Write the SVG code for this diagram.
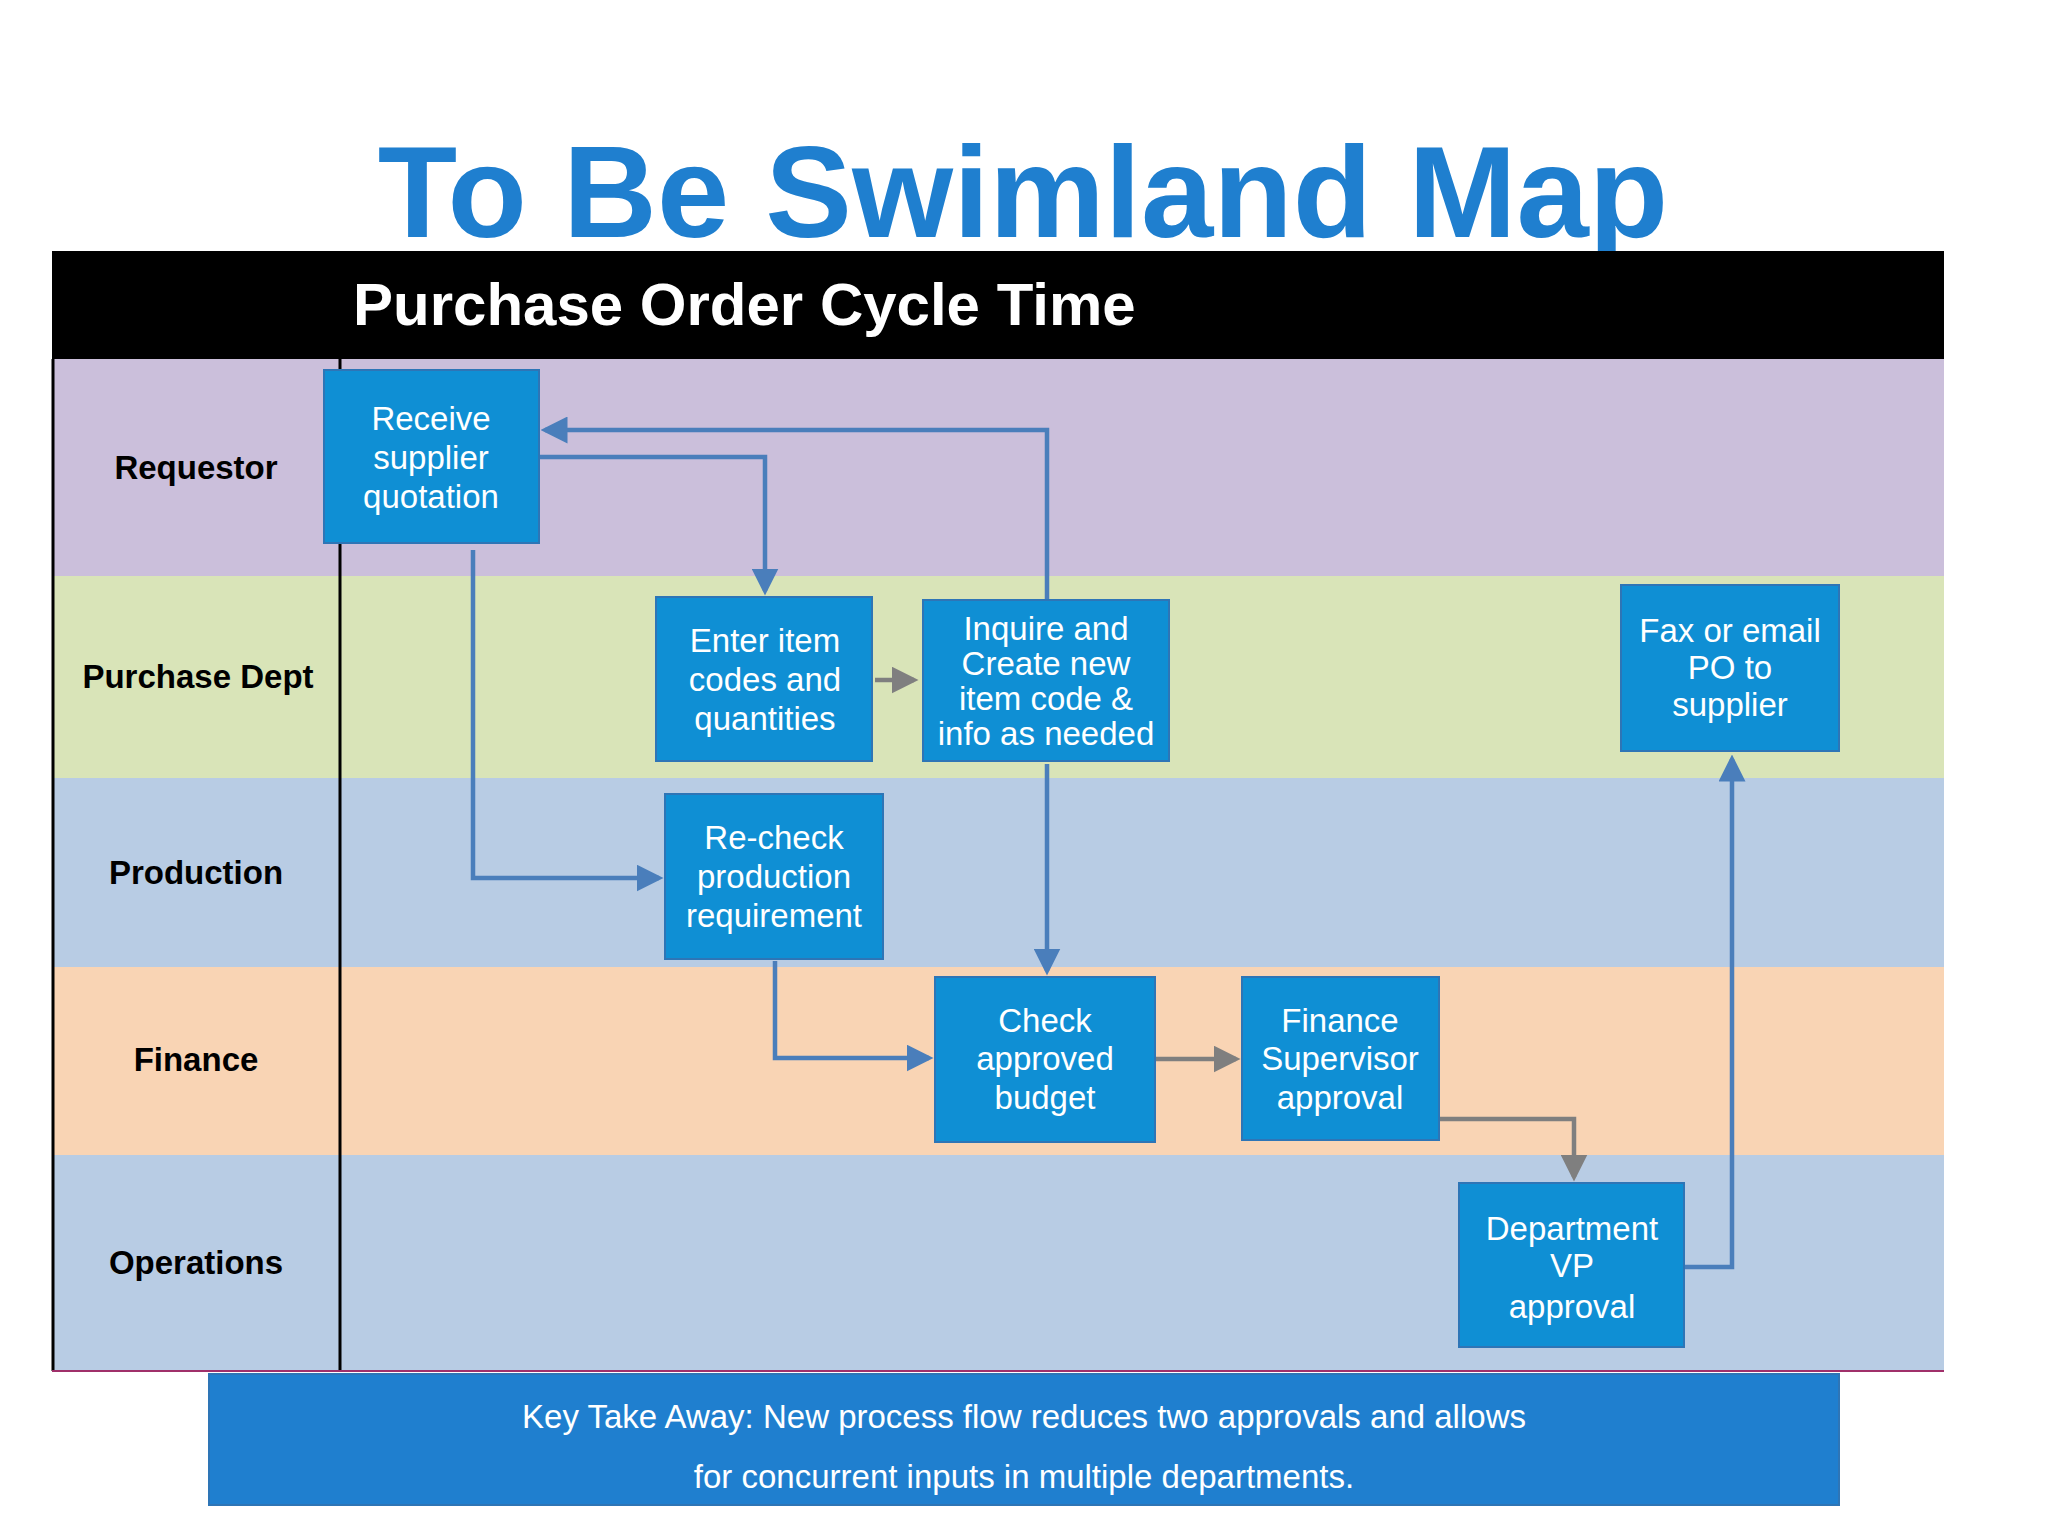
<svg xmlns="http://www.w3.org/2000/svg" width="2048" height="1536" viewBox="0 0 2048 1536">
<style>
.lbl{font-family:"Liberation Sans",Arial,sans-serif;font-weight:bold;font-size:33px;fill:#000;text-anchor:middle}
.box{fill:#0f8fd4;stroke:#2e75b6;stroke-width:2}
.bt{font-family:"Liberation Sans",Arial,sans-serif;font-size:33px;fill:#fff;text-anchor:middle}
.cb{fill:none;stroke:#4a7ebb;stroke-width:4.5}
.cg{fill:none;stroke:#7f7f7f;stroke-width:4.5}
</style>
<defs>
<marker id="ab" markerWidth="6" markerHeight="6" refX="5" refY="3" orient="auto" markerUnits="strokeWidth"><path d="M0,0L6,3L0,6z" fill="#4a7ebb"/></marker>
<marker id="ag" markerWidth="6" markerHeight="6" refX="5" refY="3" orient="auto" markerUnits="strokeWidth"><path d="M0,0L6,3L0,6z" fill="#7f7f7f"/></marker>
</defs>
<rect width="2048" height="1536" fill="#fff"/>
<text x="1023" y="237" font-family="Liberation Sans,Arial,sans-serif" font-weight="bold" font-size="130" fill="#1f7fcf" text-anchor="middle">To Be Swimland Map</text>
<rect x="52" y="251" width="1892" height="108" fill="#000"/>
<text x="353" y="325" font-family="Liberation Sans,Arial,sans-serif" font-weight="bold" font-size="60" fill="#fff">Purchase Order Cycle Time</text>
<g id="lanes">
<rect x="52" y="359" width="1892" height="217" fill="#cbbfdb"/>
<rect x="52" y="576" width="1892" height="202" fill="#d9e4b8"/>
<rect x="52" y="778" width="1892" height="189" fill="#b8cce4"/>
<rect x="52" y="967" width="1892" height="188" fill="#f9d4b4"/>
<rect x="52" y="1155" width="1892" height="216" fill="#b8cce4"/>
<line x1="53" y1="359" x2="53" y2="1371" stroke="#000" stroke-width="3"/>
<line x1="340" y1="251" x2="340" y2="1371" stroke="#000" stroke-width="3"/>
<line x1="52" y1="1371" x2="1944" y2="1371" stroke="#a0306a" stroke-width="2"/>
<text class="lbl" x="196" y="479">Requestor</text>
<text class="lbl" x="198" y="688">Purchase Dept</text>
<text class="lbl" x="196" y="884">Production</text>
<text class="lbl" x="196" y="1071">Finance</text>
<text class="lbl" x="196" y="1274">Operations</text>
</g>
<g id="connectors">
<polyline class="cb" points="1047,600 1047,430 545,430" marker-end="url(#ab)"/>
<polyline class="cb" points="539,457 765,457 765,591" marker-end="url(#ab)"/>
<polyline class="cg" points="875,680 914,680" marker-end="url(#ag)"/>
<polyline class="cb" points="473,550 473,878 659,878" marker-end="url(#ab)"/>
<polyline class="cb" points="1047,764 1047,971" marker-end="url(#ab)"/>
<polyline class="cb" points="775,961 775,1058 929,1058" marker-end="url(#ab)"/>
<polyline class="cg" points="1155,1059 1236,1059" marker-end="url(#ag)"/>
<polyline class="cg" points="1439,1119 1574,1119 1574,1177" marker-end="url(#ag)"/>
<polyline class="cb" points="1685,1267 1732,1267 1732,759" marker-end="url(#ab)"/>
</g>
<g id="n1"><rect class="box" x="324" y="370" width="215" height="173"/><text class="bt" x="431" y="430">Receive</text><text class="bt" x="431" y="469">supplier</text><text class="bt" x="431" y="508">quotation</text></g>
<g id="n2"><rect class="box" x="656" y="597" width="216" height="164"/><text class="bt" x="765" y="652">Enter item</text><text class="bt" x="765" y="691">codes and</text><text class="bt" x="765" y="730">quantities</text></g>
<g id="n3"><rect class="box" x="923" y="600" width="246" height="161"/><text class="bt" x="1046" y="640" font-size="31">Inquire and</text><text class="bt" x="1046" y="675" font-size="31">Create new</text><text class="bt" x="1046" y="710" font-size="31">item code &amp;</text><text class="bt" x="1046" y="745" font-size="31">info as needed</text></g>
<g id="n4"><rect class="box" x="1621" y="585" width="218" height="166"/><text class="bt" x="1730" y="642">Fax or email</text><text class="bt" x="1730" y="679">PO to</text><text class="bt" x="1730" y="716">supplier</text></g>
<g id="n5"><rect class="box" x="665" y="794" width="218" height="165"/><text class="bt" x="774" y="849">Re-check</text><text class="bt" x="774" y="888">production</text><text class="bt" x="774" y="927">requirement</text></g>
<g id="n6"><rect class="box" x="935" y="977" width="220" height="165"/><text class="bt" x="1045" y="1032">Check</text><text class="bt" x="1045" y="1070">approved</text><text class="bt" x="1045" y="1109">budget</text></g>
<g id="n7"><rect class="box" x="1242" y="977" width="197" height="163"/><text class="bt" x="1340" y="1032">Finance</text><text class="bt" x="1340" y="1070">Supervisor</text><text class="bt" x="1340" y="1109">approval</text></g>
<g id="n8"><rect class="box" x="1459" y="1183" width="225" height="164"/><text class="bt" x="1572" y="1240">Department</text><text class="bt" x="1572" y="1277">VP</text><text class="bt" x="1572" y="1318">approval</text></g>
<g id="key"><rect x="209" y="1374" width="1630" height="131" fill="#1f7fcf" stroke="#2e75b6" stroke-width="2"/>
<text class="bt" x="1024" y="1428" font-size="49">Key Take Away: New process flow reduces two approvals and allows</text>
<text class="bt" x="1024" y="1488" font-size="49">for concurrent inputs in multiple departments.</text></g>
</svg>
